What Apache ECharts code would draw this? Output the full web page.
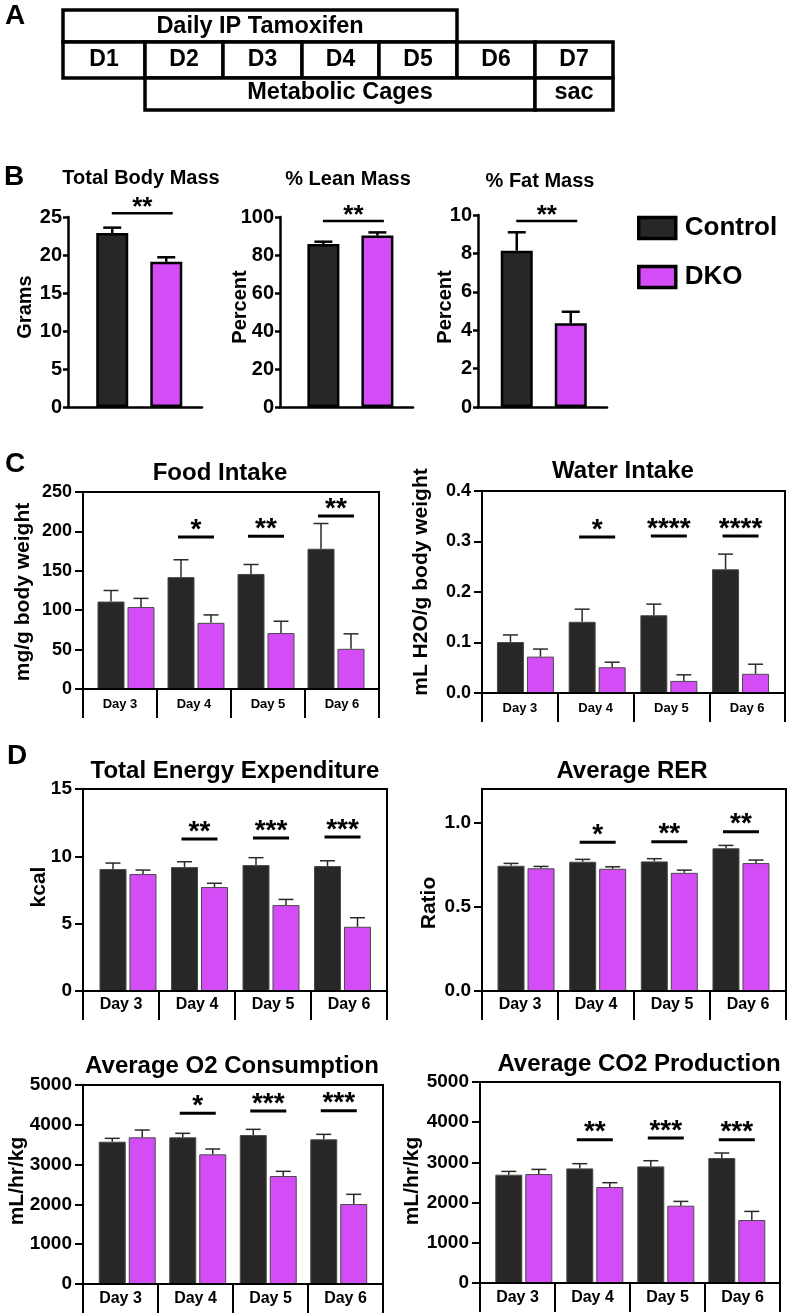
<!DOCTYPE html>
<html>
<head>
<meta charset="utf-8">
<script src="https://cdn.jsdelivr.net/npm/echarts@6/dist/echarts.min.js"></script>
<style>
html, body { margin: 0; padding: 0; background: #fff; }
#fig { width: 787px; height: 1315px; }
</style>
</head>
<body>
<div id="fig"></div>
<script>
// ---------- values ----------
var groups = ['Control', 'DKO'];
var days = ['Day 3', 'Day 4', 'Day 5', 'Day 6'];

// panel A timeline
var timelineTop = 'Daily IP Tamoxifen';
var timelineDays = ['D1', 'D2', 'D3', 'D4', 'D5', 'D6', 'D7'];
var timelineBottom = ['Metabolic Cages', 'sac'];

// panel B  ([Control, DKO])
var bodyMassMean = [22.9, 19.1];
var bodyMassSem = [0.7, 0.6];
var bodyMassTicks = [0, 5, 10, 15, 20, 25];
var bodyMassSig = [[0, 25.5, '**']];

var leanMean = [85.8, 90.2];
var leanSem = [1.2, 1.7];
var leanTicks = [0, 20, 40, 60, 80, 100];
var leanSig = [[0, 97.9, '**']];

var fatMean = [8.14, 4.36];
var fatSem = [0.96, 0.6];
var fatTicks = [0, 2, 4, 6, 8, 10];
var fatSig = [[0, 9.69, '**']];

// panel C  (Day 3 .. Day 6)
var foodCtl = [111, 142, 146, 178];
var foodCtlSem = [14, 22, 12, 32];
var foodKo = [104, 84, 71, 51];
var foodKoSem = [11, 10, 15, 19];
var foodTicks = [0, 50, 100, 150, 200, 250];
var foodSig = [[1, 193, '*'], [2, 194, '**'], [3, 219.5, '**']];

var waterCtl = [0.101, 0.141, 0.154, 0.245];
var waterCtlSem = [0.014, 0.025, 0.022, 0.030];
var waterKo = [0.072, 0.051, 0.024, 0.038];
var waterKoSem = [0.015, 0.010, 0.012, 0.019];
var waterTicks = [0, 0.1, 0.2, 0.3, 0.4];
var waterSig = [[1, 0.309, '*'], [2, 0.311, '****'], [3, 0.311, '****']];

// panel D
var teeCtl = [9.06, 9.2, 9.35, 9.28];
var teeCtlSem = [0.44, 0.4, 0.55, 0.39];
var teeKo = [8.69, 7.72, 6.38, 4.77];
var teeKoSem = [0.29, 0.28, 0.42, 0.67];
var teeTicks = [0, 5, 10, 15];
var teeSig = [[1, 11.28, '**'], [2, 11.36, '***'], [3, 11.43, '***']];

var rerCtl = [0.744, 0.768, 0.770, 0.848];
var rerCtlSem = [0.014, 0.014, 0.016, 0.017];
var rerKo = [0.729, 0.726, 0.702, 0.760];
var rerKoSem = [0.011, 0.012, 0.016, 0.018];
var rerTicks = [0, 0.5, 1.0];
var rerSig = [[1, 0.883, '*'], [2, 0.887, '**'], [3, 0.946, '**']];

var o2Ctl = [3575, 3686, 3744, 3635];
var o2CtlSem = [85, 100, 142, 125];
var o2Ko = [3686, 3258, 2713, 2010];
var o2KoSem = [183, 134, 118, 243];
var o2Ticks = [0, 1000, 2000, 3000, 4000, 5000];
var o2Sig = [[1, 4288, '*'], [2, 4347, '***'], [3, 4355, '***']];

var co2Ctl = [2694, 2851, 2901, 3109];
var co2CtlSem = [82, 117, 141, 125];
var co2Ko = [2711, 2388, 1923, 1567];
var co2KoSem = [115, 107, 107, 214];
var co2Ticks = [0, 1000, 2000, 3000, 4000, 5000];
var co2Sig = [[1, 3565, '**'], [2, 3607, '***'], [3, 3565, '***']];

// ---------- styling ----------
var FONT = '"Liberation Sans", Arial, Helvetica, sans-serif';
var CTL = '#272727', KO = '#d44cf5';

var grids = [], xAxes = [], yAxes = [], series = [], graphics = [];

function txt(x, y, s, size, rot) {
    graphics.push({
        type: 'text', x: x, y: y, rotation: rot || 0, silent: true,
        style: { text: s, font: 'bold ' + size + 'px ' + FONT, fill: '#000',
                 textAlign: 'center', textVerticalAlign: 'middle', align: 'center', verticalAlign: 'middle' }
    });
}

function errItem(off, cap, lw, col) {
    return function (params, api) {
        var p0 = api.coord([api.value(0), api.value(1)]);
        var p1 = api.coord([api.value(0), api.value(2)]);
        var x = p0[0] + off;
        return { type: 'group', children: [
            { type: 'line', shape: { x1: x, y1: p0[1], x2: x, y2: p1[1] }, style: { stroke: col, lineWidth: lw } },
            { type: 'line', shape: { x1: x - cap, y1: p1[1], x2: x + cap, y2: p1[1] }, style: { stroke: col, lineWidth: lw } }
        ] };
    };
}

function sigItem(labels, hw, off, lw, size, dy) {
    return function (params, api) {
        var p = api.coord([api.value(0), api.value(1)]);
        var cx = p[0] + off;
        return { type: 'group', children: [
            { type: 'line', shape: { x1: cx - hw, y1: p[1], x2: cx + hw, y2: p[1] }, style: { stroke: '#000', lineWidth: lw } },
            { type: 'text', x: cx, y: p[1] - dy, style: { text: labels[params.dataIndex], font: 'bold ' + size + 'px ' + FONT, fill: '#000',
                textAlign: 'center', textVerticalAlign: 'middle', align: 'center', verticalAlign: 'middle' } }
        ] };
    };
}

function addPanel(p) {
    var fi = grids.length;
    grids.push({ left: p.frame[0], top: p.frame[1], width: p.frame[2], height: p.frame[3],
        show: !!p.boxed, borderColor: '#000', borderWidth: p.lw, backgroundColor: 'rgba(0,0,0,0)',
        containLabel: false, outerBoundsMode: 'none' });
    xAxes.push({ gridIndex: fi, type: 'category', data: p.cats, boundaryGap: true, z: 5,
        axisLine: { show: true, lineStyle: { color: '#000', width: p.lw } },
        axisTick: { show: !!p.catTick, interval: 0, length: p.catTick || 0, lineStyle: { color: '#000', width: p.lw } },
        axisLabel: { show: !!p.catFont, interval: 0, color: '#000', fontFamily: FONT, fontWeight: 'bold',
                     fontSize: p.catFont || 12, margin: p.catMargin || 8 },
        splitLine: { show: false } });
    yAxes.push({ gridIndex: fi, type: 'value', min: 0, max: p.ymax, z: 5,
        axisLine: { show: true, lineStyle: { color: '#000', width: p.lw } },
        axisTick: { show: true, length: p.tickLen, customValues: p.ticks, lineStyle: { color: '#000', width: p.lw } },
        axisLabel: { customValues: p.ticks, color: '#000', fontFamily: FONT, fontWeight: 'bold',
                     fontSize: p.tickFont, margin: p.tickMargin,
                     formatter: function (v) { return p.dec ? Number(v).toFixed(p.dec) : String(v); } },
        splitLine: { show: false } });

    var di = grids.length;
    grids.push({ left: p.data[0], top: p.frame[1], width: p.data[1], height: p.frame[3], show: false,
        containLabel: false, outerBoundsMode: 'none' });
    xAxes.push({ gridIndex: di, type: 'category', data: p.dataCats, show: false });
    yAxes.push({ gridIndex: di, type: 'value', min: 0, max: p.ymax, show: false });

    var gapPct = (p.gap / p.barW * 100).toFixed(1) + '%';
    var off = (p.barW + p.gap) / 2;
    [[groups[0], CTL, p.ctl], [groups[1], KO, p.ko]].forEach(function (g) {
        series.push({ type: 'bar', name: g[0], xAxisIndex: di, yAxisIndex: di, data: g[2],
            barWidth: p.barW, barGap: gapPct, z: 2, silent: true, emphasis: { disabled: true },
            itemStyle: { color: g[1], borderColor: p.barBorder, borderWidth: p.barBorderW } });
    });
    [[p.ctl, p.ctlSem, -off], [p.ko, p.koSem, off]].forEach(function (g) {
        series.push({ type: 'custom', xAxisIndex: di, yAxisIndex: di, z: 3, silent: true,
            renderItem: errItem(g[2], p.errCap, p.errLw, p.errCol),
            data: g[0].map(function (m, i) { return [i, m, m + g[1][i]]; }) });
    });
    series.push({ type: 'custom', xAxisIndex: di, yAxisIndex: di, z: 3, silent: true,
        renderItem: sigItem(p.sig.map(function (s) { return s[2]; }), p.sigHw, p.sigOff || 0, p.sigLw, p.starFont, p.starDy),
        data: p.sig.map(function (s) { return [s[0], s[1]]; }) });
}

// panel B defaults
function bPanel(frame, dataLeft, ymax, ticks, mean, sem, sig) {
    addPanel({ frame: frame, data: [dataLeft, 120], ymax: ymax, ticks: ticks, cats: [''], dataCats: [''],
        boxed: false, lw: 2.5, tickLen: 5, tickFont: 20, tickMargin: 6,
        ctl: [mean[0]], ctlSem: [sem[0]], ko: [mean[1]], koSem: [sem[1]], sig: sig,
        barW: 32, gap: 22, barBorder: '#000', barBorderW: 2.5,
        errCap: 9, errLw: 2.5, errCol: '#000',
        sigHw: 30.5, sigOff: 3, sigLw: 2.5, starFont: 26, starDy: 5 });
}
// panels C and D defaults
function cdPanel(frame, data, ymax, ticks, dec, v, sig, catFont, catMargin, tickFont) {
    addPanel({ frame: frame, data: data, ymax: ymax, ticks: ticks, dec: dec, cats: days, dataCats: days,
        boxed: true, lw: 2, tickLen: 8, tickFont: tickFont, tickMargin: 11,
        catTick: 29, catFont: catFont, catMargin: catMargin,
        ctl: v[0], ctlSem: v[1], ko: v[2], koSem: v[3], sig: sig,
        barW: 27, gap: 3, barBorder: '#4a4a4a', barBorderW: 1,
        errCap: 7.5, errLw: 1.5, errCol: '#2a2a2a',
        sigHw: 18, sigLw: 3, starFont: 28, starDy: 7 });
}

bPanel([68, 217, 134, 190], 79.25, 25, bodyMassTicks, bodyMassMean, bodyMassSem, bodyMassSig);
bPanel([280, 217, 133, 190], 290.4, 100, leanTicks, leanMean, leanSem, leanSig);
bPanel([478, 215, 129, 192], 483.75, 10, fatTicks, fatMean, fatSem, fatSig);

cdPanel([83, 492, 296, 197], [91, 280], 250, foodTicks, 0, [foodCtl, foodCtlSem, foodKo, foodKoSem], foodSig, 13, 9, 18);
cdPanel([482, 491, 303, 202], [489.6, 286.8], 0.4, waterTicks, 1, [waterCtl, waterCtlSem, waterKo, waterKoSem], waterSig, 13, 9, 18);
cdPanel([83, 789, 304, 202], [92.25, 286], 15, teeTicks, 0, [teeCtl, teeCtlSem, teeKo, teeKoSem], teeSig, 16, 6, 19);
cdPanel([482, 789, 304, 202], [490.2, 286.6], 1.2, rerTicks, 1, [rerCtl, rerCtlSem, rerKo, rerKoSem], rerSig, 16, 6, 19);
cdPanel([83, 1085, 300, 199], [92, 282], 5000, o2Ticks, 0, [o2Ctl, o2CtlSem, o2Ko, o2KoSem], o2Sig, 16, 7, 19);
cdPanel([480, 1082, 300, 201], [488.3, 284], 5000, co2Ticks, 0, [co2Ctl, co2CtlSem, co2Ko, co2KoSem], co2Sig, 16, 7, 19);

// ---------- panel A timeline (layout boxes) ----------
var tlX = [63, 145, 223, 302, 379, 457, 535, 613];
var tlY = [10, 42, 78, 110];
function cell(x0, x1, y0, y1, label, size, ty) {
    graphics.push({ type: 'rect', silent: true, shape: { x: x0, y: y0, width: x1 - x0, height: y1 - y0 },
        style: { fill: '#fff', stroke: '#000', lineWidth: 3.5 } });
    txt((x0 + x1) / 2, ty, label, size);
}
cell(tlX[0], tlX[5], tlY[0], tlY[1], timelineTop, 23.5, 27);
timelineDays.forEach(function (d, i) { cell(tlX[i], tlX[i + 1], tlY[1], tlY[2], d, 23, 60); });
cell(tlX[1], tlX[6], tlY[2], tlY[3], timelineBottom[0], 23.5, 93);
cell(tlX[6], tlX[7], tlY[2], tlY[3], timelineBottom[1], 23.5, 93);

// panel letters
txt(15, 16, 'A', 28);
txt(14, 177, 'B', 28);
txt(15, 464, 'C', 28);
txt(17, 756, 'D', 28);

// chart titles
txt(141, 178, 'Total Body Mass', 20);
txt(348, 179, '% Lean Mass', 20);
txt(540, 181, '% Fat Mass', 20);
txt(220, 473, 'Food Intake', 24);
txt(623, 471, 'Water Intake', 24);
txt(235, 771, 'Total Energy Expenditure', 24);
txt(632, 771, 'Average RER', 24);
txt(232, 1066, 'Average O2 Consumption', 24);
txt(639, 1064, 'Average CO2 Production', 24);

// axis names
var R = Math.PI / 2;
txt(25, 307, 'Grams', 20, R);
txt(240, 307, 'Percent', 20, R);
txt(445, 307, 'Percent', 20, R);
txt(23, 592, 'mg/g body weight', 21, R);
txt(421, 582, 'mL H2O/g body weight', 21, R);
txt(39, 887, 'kcal', 21, R);
txt(429, 903, 'Ratio', 21, R);
txt(17, 1181, 'mL/hr/kg', 21, R);
txt(412, 1181, 'mL/hr/kg', 21, R);

var chart = echarts.init(document.getElementById('fig'), null, { renderer: 'canvas' });
chart.setOption({
    animation: false,
    backgroundColor: '#fff',
    textStyle: { fontFamily: FONT },
    legend: {
        orient: 'vertical', left: 637, top: 215, padding: 0,
        itemWidth: 37, itemHeight: 21, itemGap: 23, icon: 'rect', selectedMode: false,
        data: groups,
        itemStyle: { borderColor: '#000', borderWidth: 3.5 },
        textStyle: { fontFamily: FONT, fontWeight: 'bold', fontSize: 26, color: '#000', padding: [0, 0, 0, 4] }
    },
    grid: grids,
    xAxis: xAxes,
    yAxis: yAxes,
    series: series,
    graphic: graphics
});
</script>
</body>
</html>
